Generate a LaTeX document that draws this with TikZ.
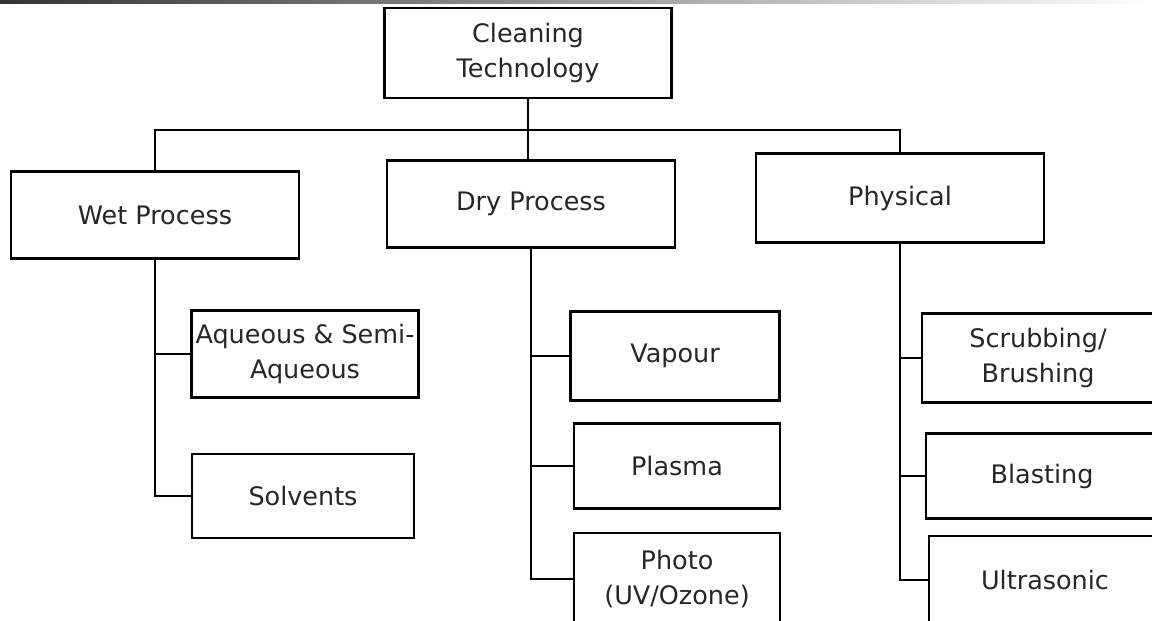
\documentclass[tikz,border=0pt]{standalone}
\usepackage{fontspec}
\setmainfont{DejaVu Sans}

\begin{document}
\begin{tikzpicture}[
  x=0.02cm, y=-0.02cm,
  every node/.style = {shape=rectangle, draw, align=center,
    line width=1.3pt, inner sep=2pt, text=black!85,
    font=\fontsize{14.5}{19.5}\selectfont},
  link/.style = {line width=1.3pt}]
  \tikzstyle{main}=[minimum width=5.76cm, minimum height=1.74cm]
  \tikzstyle{sub}=[minimum width=4.64cm, minimum height=1.76cm]
  \useasboundingbox (0,0) rectangle (1152,621);
  \clip (0,0) rectangle (1152,621);
  \shade[left color=black!80, right color=white] (0,0) rectangle (1152,4);

  \node[minimum width=5.74cm, minimum height=1.80cm] (clean) at (528,53) {Cleaning\\Technology};
  \node[main] (wet) at (155,215) {Wet Process};
  \node[main] (dry) at (531,204) {Dry Process};
  \node[main, minimum height=1.78cm] (phys) at (900,198) {Physical};

  \node[minimum width=4.54cm, minimum height=1.74cm] (aqueous) at (305,354) {Aqueous \& Semi-\\Aqueous};
  \node[minimum width=4.44cm, minimum height=1.68cm] (solvents) at (303,496) {Solvents};

  \node[minimum width=4.18cm, minimum height=1.78cm] (vapour) at (675,356) {Vapour};
  \node[minimum width=4.12cm, minimum height=1.70cm] (plasma) at (677,466) {Plasma};
  \node[minimum width=4.12cm, minimum height=1.84cm] (photo) at (677,579) {Photo\\(UV/Ozone)};

  \node[sub, minimum height=1.78cm] (scrub) at (1038,358) {Scrubbing/\\Brushing};
  \node[sub, minimum height=1.70cm] (blast) at (1042,476) {Blasting};
  \node[sub] (ultra) at (1045,580) {Ultrasonic};

  % top level
  \coordinate (bus) at (528,130);
  \draw[link] (clean.south) -- (clean.south |- dry.north);
  \draw[link] (wet.north) |- (bus) -| (phys.north);

  % branches
  \draw[link] (wet.south) |- (solvents.west);
  \draw[link] (wet.south |- aqueous.west) -- (aqueous.west);
  \draw[link] (dry.south) |- (photo.west);
  \foreach \n in {vapour, plasma}
    \draw[link] (dry.south |- \n.west) -- (\n.west);
  \draw[link] (phys.south) |- (ultra.west);
  \foreach \n in {scrub, blast}
    \draw[link] (phys.south |- \n.west) -- (\n.west);
\end{tikzpicture}
\end{document}
